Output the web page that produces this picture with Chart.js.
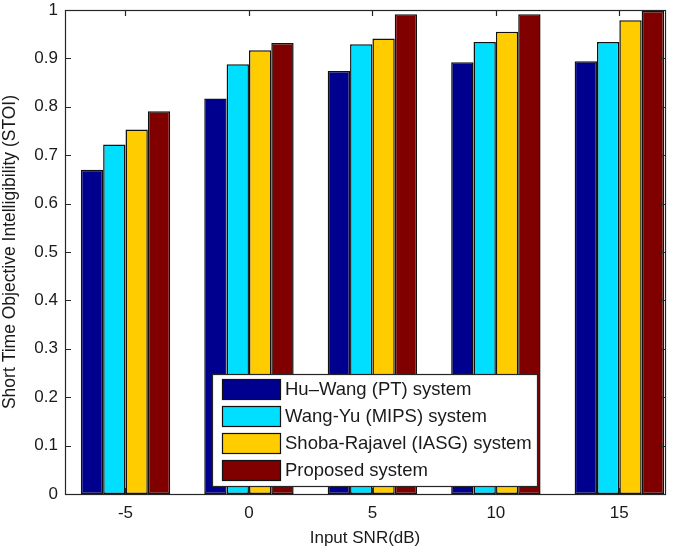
<!DOCTYPE html>
<html>
<head>
<meta charset="utf-8">
<script src="https://cdn.jsdelivr.net/npm/chart.js@4.4.0/dist/chart.umd.min.js"></script>
<style>
  html, body { margin: 0; padding: 0; background: #fff; }
  #wrap { width: 685px; height: 549px; position: relative; }
</style>
</head>
<body>
<div id="wrap"><canvas id="grafico"></canvas></div>
<script>
// datos
const snr = [-5, 0, 5, 10, 15];
const yTicks = [0, 0.1, 0.2, 0.3, 0.4, 0.5, 0.6, 0.7, 0.8, 0.9, 1];

const huWang     = [0.670, 0.817, 0.874, 0.892, 0.894];
const wangYu     = [0.722, 0.888, 0.929, 0.934, 0.934];
const shobaRaj   = [0.753, 0.917, 0.941, 0.955, 0.979];
const propuesto  = [0.791, 0.932, 0.991, 0.991, 0.998];

const nombres = ['Hu\u2013Wang (PT) system', 'Wang-Yu (MIPS) system', 'Shoba-Rajavel (IASG) system', 'Proposed system'];
const colores = ['#00008f', '#00dfff', '#ffcc00', '#800000'];

function serie(i, vals) {
    return {
        label: nombres[i],
        data: snr.map((x, k) => ({ x: x, y: vals[k] })),
        backgroundColor: colores[i],
        borderColor: '#111',
        borderWidth: 1.5,
        borderSkipped: false,
        categoryPercentage: 0.724,
        barPercentage: 1.0
    };
}

// ejes tipo matlab: caja completa y marcas hacia adentro
const cajaEjes = {
    id: 'cajaEjes',
    afterDatasetsDraw(chart) {
        const ctx = chart.ctx, a = chart.chartArea;
        const xs = chart.scales.x, ys = chart.scales.y;
        ctx.save();
        ctx.strokeStyle = '#262626';
        ctx.lineWidth = 1.2;
        ctx.beginPath();
        ys.ticks.forEach(t => {
            const y = Math.round(ys.getPixelForValue(t.value)) + 0.5;
            ctx.moveTo(a.left, y); ctx.lineTo(a.left + 6, y);
            ctx.moveTo(a.right, y); ctx.lineTo(a.right - 6, y);
        });
        xs.ticks.forEach(t => {
            const x = Math.round(xs.getPixelForValue(t.value)) + 0.5;
            ctx.moveTo(x, a.top); ctx.lineTo(x, a.top + 6);
            ctx.moveTo(x, a.bottom); ctx.lineTo(x, a.bottom - 6);
        });
        ctx.stroke();
        ctx.strokeRect(Math.round(a.left) + 0.5, Math.round(a.top) + 0.5,
                       Math.round(a.right - a.left), Math.round(a.bottom - a.top));
        ctx.restore();
    }
};

// leyenda dentro del area de trazado
const leyenda = {
    id: 'leyenda',
    afterDraw(chart) {
        const ctx = chart.ctx;
        const bx = 212, by = 374, bw = 325, bh = 112;
        ctx.save();
        ctx.fillStyle = '#fff';
        ctx.fillRect(bx, by, bw, bh);
        ctx.strokeStyle = '#262626';
        ctx.lineWidth = 1.2;
        ctx.strokeRect(bx + 0.5, by + 0.5, bw, bh);
        ctx.font = '18.5px "Liberation Sans", Arial, sans-serif';
        ctx.textBaseline = 'middle';
        chart.data.datasets.forEach((ds, i) => {
            const cy = by + 15 + i * 27;
            ctx.fillStyle = ds.backgroundColor;
            ctx.fillRect(222, cy - 10, 58, 20);
            ctx.strokeStyle = '#111';
            ctx.strokeRect(222.5, cy - 9.5, 58, 20);
            ctx.fillStyle = '#1a1a1a';
            ctx.fillText(ds.label, 285, cy + 1);
        });
        ctx.restore();
    }
};

new Chart(document.getElementById('grafico'), {
    type: 'bar',
    data: {
        datasets: [serie(0, huWang), serie(1, wangYu), serie(2, shobaRaj), serie(3, propuesto)]
    },
    options: {
        responsive: true,
        maintainAspectRatio: false,
        animation: false,
        layout: { padding: { left: 0, right: 20, top: 10, bottom: 0 } },
        plugins: { legend: { display: false }, tooltip: { enabled: false } },
        scales: {
            x: {
                type: 'linear',
                offset: false,
                min: -7.45,
                max: 16.85,
                afterBuildTicks: s => { s.ticks = snr.map(v => ({ value: v })); },
                afterFit: s => { s.height = 55; s.paddingLeft = 0; s.paddingRight = 0; },
                grid: { display: false, drawTicks: false, offset: false },
                border: { display: false },
                ticks: { color: '#1a1a1a', padding: 9, callback: v => String(v),
                         font: { family: '"Liberation Sans", Arial', size: 17 } },
                title: { display: true, text: 'Input SNR(dB)', color: '#1a1a1a', padding: { top: 3, bottom: 0 },
                         font: { family: '"Liberation Sans", Arial', size: 17 } }
            },
            y: {
                min: 0,
                max: 1,
                afterBuildTicks: s => { s.ticks = yTicks.map(v => ({ value: v })); },
                afterFit: s => { s.width = 65; s.paddingTop = 0; s.paddingBottom = 0; },
                grid: { display: false, drawTicks: false },
                border: { display: false },
                ticks: { color: '#1a1a1a', padding: 7, callback: v => String(v),
                         font: { family: '"Liberation Sans", Arial', size: 17 } },
                title: { display: true, text: 'Short Time Objective Intelligibility (STOI)', color: '#1a1a1a',
                         padding: { top: 0, bottom: 2 }, font: { family: '"Liberation Sans", Arial', size: 17.5 } }
            }
        }
    },
    plugins: [cajaEjes, leyenda]
});
</script>
</body>
</html>
